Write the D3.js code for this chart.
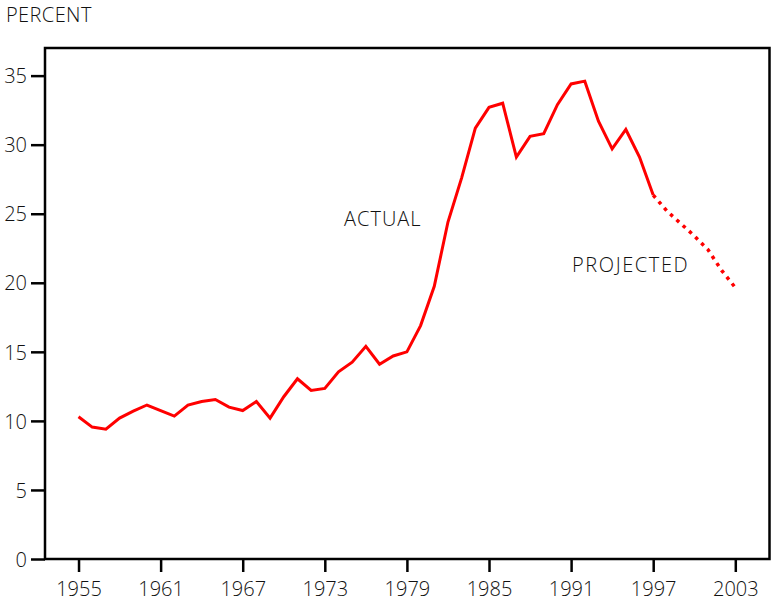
<!DOCTYPE html>
<html>
<head>
<meta charset="utf-8">
<script src="https://cdn.jsdelivr.net/npm/d3@7"></script>
<style>
  body { margin: 0; background: #fff; }
  svg text { font-family: "Open Sans", sans-serif; font-weight: 300; fill: #111; }
</style>
</head>
<body>
<svg width="771" height="602"></svg>
<script>
// actual series, 1955-1997
var actualYears = d3.range(1955, 1998);
var actualValues = [10.3, 9.55, 9.4, 10.2, 10.7, 11.15, 10.75, 10.35, 11.15, 11.4, 11.55,
                    11.0, 10.75, 11.4, 10.2, 11.75, 13.05, 12.2, 12.35, 13.55, 14.25,
                    15.4, 14.1, 14.7, 15.0, 16.9, 19.75, 24.4, 27.6, 31.2, 32.7,
                    33.0, 29.1, 30.6, 30.8, 32.9, 34.4, 34.6, 31.7, 29.7, 31.1,
                    29.1, 26.35];
// projected series, 1997-2003
var projYears = d3.range(1997, 2004);
var projValues = [26.35, 25.2, 24.3, 23.4, 22.4, 20.9, 19.65];
var xTicks = [1955, 1961, 1967, 1973, 1979, 1985, 1991, 1997, 2003];
var yTicks = [0, 5, 10, 15, 20, 25, 30, 35];

var svg = d3.select("svg"),
    plotLeft = 45, plotRight = 769.5, plotTop = 48, plotBottom = 559;

var x = d3.scaleLinear().domain([1952.55, 2005.5]).range([plotLeft, plotRight]);
var y = d3.scaleLinear().domain([0, 37]).range([plotBottom, plotTop]);

// frame
svg.append("rect")
    .attr("x", plotLeft).attr("y", plotTop)
    .attr("width", plotRight - plotLeft).attr("height", plotBottom - plotTop)
    .attr("fill", "none").attr("stroke", "#000").attr("stroke-width", 2.5);

var yAxis = svg.append("g")
    .attr("transform", "translate(" + plotLeft + ",0)")
    .call(d3.axisLeft(y).tickValues(yTicks).tickSize(14).tickPadding(4));

var xAxis = svg.append("g")
    .attr("transform", "translate(0," + plotBottom + ")")
    .call(d3.axisBottom(x).tickValues(xTicks).tickFormat(d3.format("d")).tickSize(13).tickPadding(10));

[yAxis, xAxis].forEach(function(a) {
    a.select(".domain").remove();
    a.selectAll("line").attr("stroke", "#000").attr("stroke-width", 2.5);
    a.selectAll("text").attr("font-size", 20).attr("fill", "#111")
        .attr("font-family", "'Open Sans', sans-serif").attr("font-weight", 300);
});
yAxis.selectAll("text").attr("dy", "0.36em");

var line = d3.line()
    .x(function(d) { return x(d[0]); })
    .y(function(d) { return y(d[1]); });

svg.append("path")
    .datum(d3.zip(actualYears, actualValues))
    .attr("d", line)
    .attr("fill", "none").attr("stroke", "#ff0000")
    .attr("stroke-width", 3).attr("stroke-linejoin", "miter");

svg.append("path")
    .datum(d3.zip(projYears, projValues))
    .attr("d", line)
    .attr("fill", "none").attr("stroke", "#ff0000")
    .attr("stroke-width", 3.5).attr("stroke-dasharray", "3.5,5");

// labels
svg.append("text").attr("x", 6).attr("y", 22).attr("font-size", 20)
    .attr("letter-spacing", 0.4).text("PERCENT");
svg.append("text").attr("x", 344).attr("y", 226).attr("font-size", 20)
    .attr("letter-spacing", 1).text("ACTUAL");
svg.append("text").attr("x", 572).attr("y", 272).attr("font-size", 20)
    .attr("letter-spacing", 1.6).text("PROJECTED");
</script>
</body>
</html>
